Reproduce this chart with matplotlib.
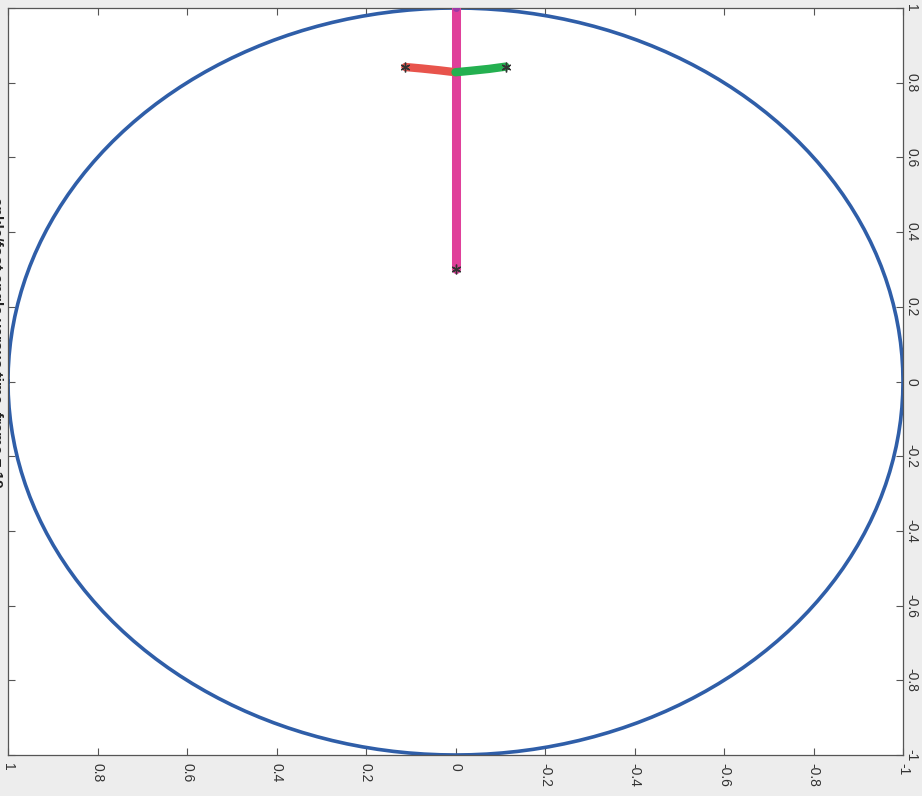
import numpy as np
import matplotlib
matplotlib.use("Agg")
from matplotlib import pyplot as plt

ticks = [1, 0.8, 0.6, 0.4, 0.2, 0, -0.2, -0.4, -0.6, -0.8, -1]
tick_labels = ["1", "0.8", "0.6", "0.4", "0.2", "0", "-0.2", "-0.4", "-0.6", "-0.8", "-1"]

circle_deg = np.arange(0, 361, 2)

stem_h = [0.0, 0.0]
stem_v = [1.0, 0.30]

left_h = [0.112, 0.075, 0.035, 0.0]
left_v = [0.842, 0.838, 0.833, 0.828]

right_h = [0.0, -0.035, -0.075, -0.112]
right_v = [0.828, 0.832, 0.837, 0.843]

title = "ankle/foot angle versus time, frame = 19"

plt.rcParams["font.family"] = ["Liberation Sans", "DejaVu Sans"]

fig = plt.figure(figsize=(9.22, 7.96), dpi=100, facecolor="#ededed")
ax = fig.add_axes([8 / 922, 41 / 796, 895 / 922, 747 / 796])
ax.set_facecolor("white")

theta = np.deg2rad(circle_deg)
ax.plot(np.cos(theta), np.sin(theta), color="#2f5ea8", lw=2.6)

ax.plot(stem_h, stem_v, color="#e0409a", lw=6.5, solid_capstyle="round", zorder=3)
ax.plot(left_h, left_v, color="#e8544c", lw=6, solid_capstyle="round", zorder=4)
ax.plot(right_h, right_v, color="#24b050", lw=6, solid_capstyle="round", zorder=4)

star = (6, 2, 0)
ax.plot(stem_h[-1], stem_v[-1], marker=star, color="#333333", ms=7, mew=1, zorder=5)
ax.plot(left_h[0], left_v[0], marker=star, color="#333333", ms=7, mew=1, zorder=5)
ax.plot(right_h[-1], right_v[-1], marker=star, color="#333333", ms=7, mew=1, zorder=5)
ax.plot(stem_h[0], stem_v[0], marker="o", color="#9a3aa8", ms=4, zorder=5)

ax.set_xlim(1, -1)
ax.set_ylim(-1, 1)

ax.set_xticks(ticks)
ax.set_xticklabels(tick_labels, rotation=-90, fontsize=10, color="#333333")
ax.set_yticks(ticks)
ax.set_yticklabels(tick_labels, rotation=-90, fontsize=10, color="#333333",
                   va="center")
ax.yaxis.tick_right()
ax.tick_params(direction="in", length=5, width=0.8, top=True, left=True,
               bottom=True, right=True, labelleft=False, labelright=True,
               color="#555555")
ax.tick_params(axis="x", pad=6)
ax.tick_params(axis="y", pad=1)
for s in ax.spines.values():
    s.set_color("#555555")
    s.set_linewidth(0.9)

fig.text(-0.012, 0.57, title, rotation=-90, fontsize=11, fontweight="bold",
         ha="left", va="center", color="#222222")

fig.savefig("out.png", dpi=100, facecolor=fig.get_facecolor())
